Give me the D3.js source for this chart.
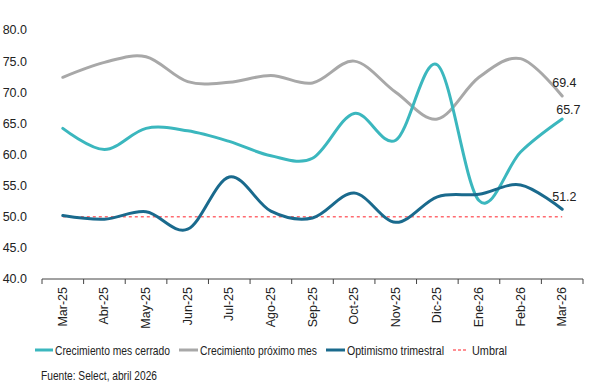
<!DOCTYPE html>
<html><head><meta charset="utf-8">
<script src="https://cdn.jsdelivr.net/npm/d3@7"></script>
<style>
body{margin:0;background:#fff;}
svg{display:block;font-family:"Liberation Sans",Arial,sans-serif;}
</style></head><body>
<svg id="c" width="600" height="392"></svg>
<script>
const categories = ["Mar-25","Abr-25","May-25","Jun-25","Jul-25","Ago-25","Sep-25","Oct-25","Nov-25","Dic-25","Ene-26","Feb-26","Mar-26"];
const crecimientoMesCerrado = [64.2,60.8,64.2,63.8,62.1,59.8,59.4,66.6,62.3,74.4,52.6,60.4,65.7];
const crecimientoProximoMes = [72.4,74.8,75.7,71.7,71.6,72.7,71.5,75.0,70.0,65.7,72.4,75.4,69.4];
const optimismoTrimestral = [50.2,49.6,50.8,48.0,56.4,50.9,49.8,53.8,49.1,53.2,53.6,55.1,51.2];
const umbral = [50,50,50,50,50,50,50,50,50,50,50,50,50];
const yTicks = [40,45,50,55,60,65,70,75,80];
const seriesNames = ["Crecimiento mes cerrado","Crecimiento próximo mes","Optimismo trimestral","Umbral"];
const source = "Fuente: Select, abril 2026";

const svg = d3.select("#c");
const x = d3.scaleBand().domain(categories).range([42,583]);
const y = d3.scaleLinear().domain([40,80]).range([279,30]);
const cx = d => x(d) + x.bandwidth()/2;

// y labels
svg.append("g").selectAll("text").data(yTicks).join("text")
  .attr("x",27).attr("y",d=>y(d)).attr("dy","0.35em")
  .attr("text-anchor","end").attr("font-size",12.5).attr("fill","#222")
  .text(d=>d.toFixed(1));

// x axis
const xa = svg.append("g").attr("transform","translate(0,279)");
xa.append("line").attr("x1",42).attr("x2",583).attr("stroke","#444").attr("stroke-width",1);
const bounds = categories.map(c=>x(c)).concat([583]);
xa.selectAll("line.t").data(bounds).join("line").attr("class","t")
  .attr("x1",d=>d).attr("x2",d=>d).attr("y1",0).attr("y2",5).attr("stroke","#444");
xa.selectAll("text").data(categories).join("text")
  .attr("transform",d=>`translate(${cx(d)+4},8) rotate(-90)`)
  .attr("text-anchor","end").attr("font-size",12.5).attr("fill","#222").text(d=>d);

const line = d3.line().x((d,i)=>cx(categories[i])).y(d=>y(d)).curve(d3.curveCatmullRom.alpha(0));
const lineStraight = d3.line().x((d,i)=>cx(categories[i])).y(d=>y(d));

svg.append("path").datum(umbral).attr("d",lineStraight).attr("fill","none")
  .attr("stroke","#FF6B70").attr("stroke-width",1.5).attr("stroke-dasharray","3,3");
const colors = ["#3BB7BE","#A8A8A8","#1A6A8D"];
[crecimientoProximoMes, crecimientoMesCerrado, optimismoTrimestral].forEach((s,k)=>{
  const col = [colors[1],colors[0],colors[2]][k];
  svg.append("path").datum(s).attr("d",line).attr("fill","none")
    .attr("stroke",col).attr("stroke-width",3).attr("stroke-linecap","round");
});

// end labels
const last = categories.length-1;
const endLabels = [
  {v:crecimientoProximoMes[last], dx:-10, dy:-13},
  {v:crecimientoMesCerrado[last], dx:-6, dy:-9},
  {v:optimismoTrimestral[last], dx:-10, dy:-13}
];
svg.append("g").selectAll("text").data(endLabels).join("text")
  .attr("x",d=>cx(categories[last])+d.dx).attr("y",d=>y(d.v)+d.dy).attr("dy","0.35em")
  .attr("font-size",12.5).attr("fill","#222").text(d=>d.v.toFixed(1));

// legend
const legend = [
  {name:seriesNames[0], col:colors[0], x1:35, x2:53, tx:55, w:115, dash:null},
  {name:seriesNames[1], col:colors[1], x1:179, x2:198, tx:200, w:117, dash:null},
  {name:seriesNames[2], col:colors[2], x1:326, x2:345, tx:347, w:97, dash:null},
  {name:seriesNames[3], col:"#FF6B70", x1:453, x2:468, tx:472, w:35, dash:"3,2"}
];
const lg = svg.append("g");
legend.forEach(l=>{
  lg.append("line").attr("x1",l.x1).attr("x2",l.x2).attr("y1",350).attr("y2",350)
    .attr("stroke",l.col).attr("stroke-width",l.dash?1.5:3).attr("stroke-dasharray",l.dash);
  lg.append("text").attr("x",l.tx).attr("y",350).attr("dy","0.35em").attr("font-size",13.5)
    .attr("fill","#222").attr("textLength",l.w).attr("lengthAdjust","spacingAndGlyphs")
    .text(l.name);
});
svg.append("text").attr("x",41).attr("y",375).attr("dy","0.35em").attr("font-size",13.5)
  .attr("fill","#222").attr("textLength",116).attr("lengthAdjust","spacingAndGlyphs")
  .text(source);
</script>
</body></html>
